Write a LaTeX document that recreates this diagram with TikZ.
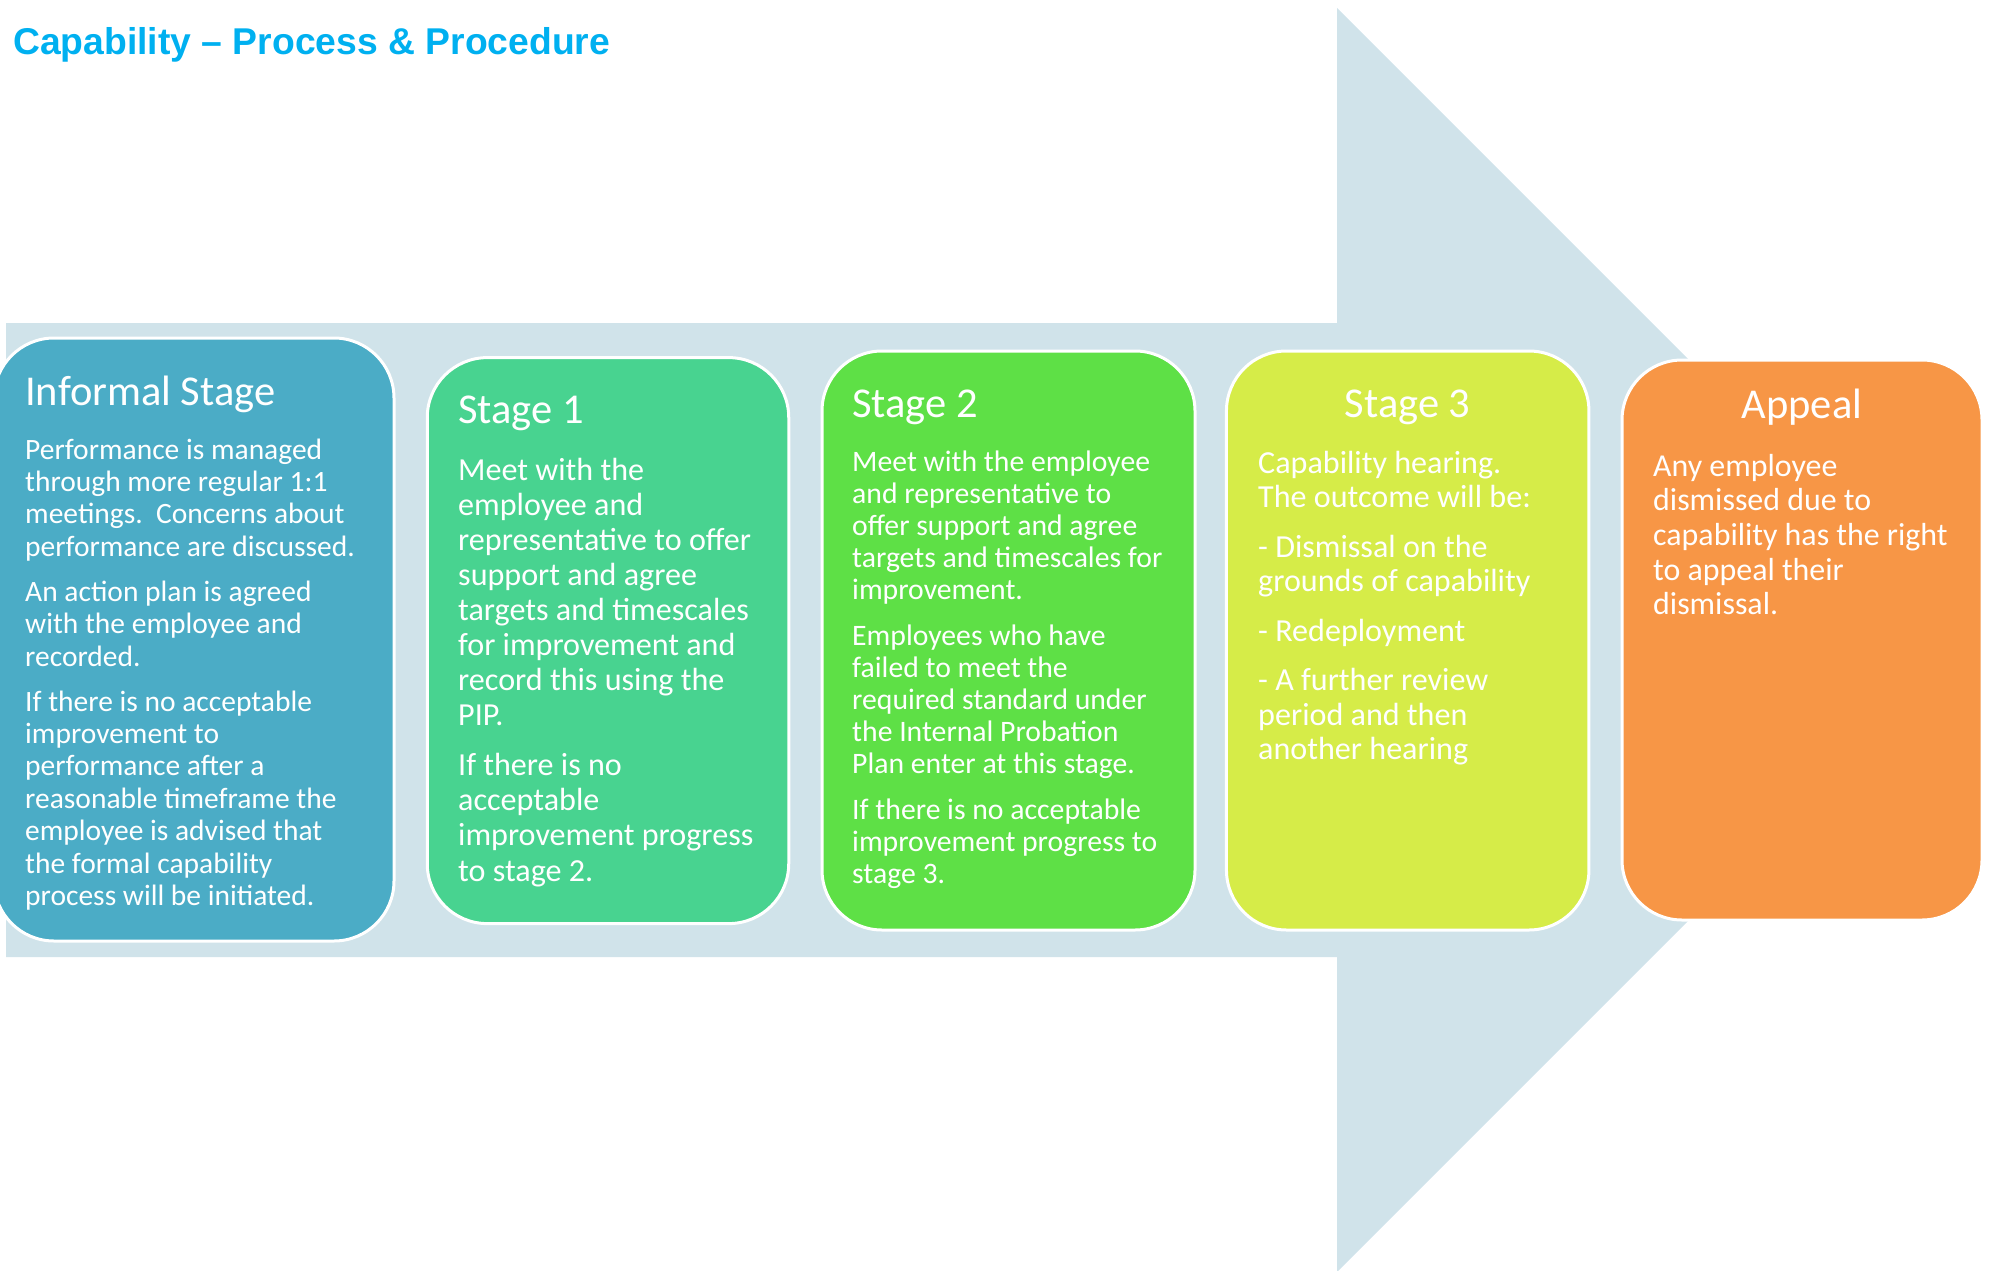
\documentclass[tikz,border=0pt]{standalone}
\usepackage{fontspec}
\setmainfont{Carlito}
\newfontfamily\titlefont{Liberation Sans}
\definecolor{arrowc}{HTML}{D0E3EA}
\definecolor{titlec}{HTML}{00B0F0}
\definecolor{cinf}{HTML}{4BACC6}
\definecolor{cone}{HTML}{48D390}
\definecolor{ctwo}{HTML}{5EE046}
\definecolor{cthree}{HTML}{D6EC48}
\definecolor{capp}{HTML}{F79646}
\tikzset{
  stagebox/.style={draw=white, line width=3pt, rounded corners=60pt, inner sep=0pt, outer sep=0pt},
  stagetitle/.style={inner sep=0pt, text=white, font=\fontsize{42.5}{50}\selectfont},
  bodytext/.style={anchor=base west, inner sep=0pt, text=white}
}
\begin{document}
\begin{tikzpicture}[x=1pt,y=-1pt]
\useasboundingbox (0,0) rectangle (1995,1271);
% background arrow
\fill[arrowc] (6,323) -- (1337,323) -- (1337,8) -- (1969,640) -- (1337,1272) -- (1337,957) -- (6,957) -- cycle;
% title
\node[anchor=base west, inner sep=0pt, text=titlec, font=\titlefont\bfseries\fontsize{37.3}{44}\selectfont] (title) at (13,55) {Capability – Process \& Procedure};
% boxes
\node[stagebox, fill=cinf, minimum width=400pt, minimum height=603pt] (informal) at (194,639.5) {};
\node[stagebox, fill=cone, minimum width=361.5pt, minimum height=566pt] (s1) at (608,640.6) {};
\node[stagebox, fill=ctwo, minimum width=373pt, minimum height=579pt] (s2) at (1008.5,640.5) {};
\node[stagebox, fill=cthree, minimum width=362.5pt, minimum height=579pt] (s3) at (1407.7,640.5) {};
\node[stagebox, fill=capp, minimum width=360pt, minimum height=560pt] (appeal) at (1802,640) {};
% titles
\node[stagetitle, anchor=base west] (tinf) at (25,405) {Informal Stage};
\node[stagetitle, anchor=base west] (t1) at (458,423) {Stage 1};
\node[stagetitle, anchor=base west] (t2) at (852,417) {Stage 2};
\node[stagetitle, anchor=base] (t3) at (1407.7,417) {Stage 3};
\node[stagetitle, anchor=base] (tapp) at (1802,418) {Appeal};
% bodies
\node[bodytext] (binf) at (25,459) {\parbox[t]{380pt}{\raggedright\fontsize{29.5}{32.4}\selectfont
Performance is managed\\
through more regular 1:1\\
meetings.\ \ Concerns about\\
performance are discussed.\\[12.6pt]
An action plan is agreed\\
with the employee and\\
recorded.\\[12.6pt]
If there is no acceptable\\
improvement to\\
performance after a\\
reasonable timeframe the\\
employee is advised that\\
the formal capability\\
process will be initiated.}};
\node[bodytext] (b1) at (458,480) {\parbox[t]{340pt}{\raggedright\fontsize{32.1}{35.1}\selectfont
Meet with the\\
employee and\\
representative to offer\\
support and agree\\
targets and timescales\\
for improvement and\\
record this using the\\
PIP.\\[14.9pt]
If there is no\\
acceptable\\
improvement progress\\
to stage 2.}};
\node[bodytext] (b2) at (852,471) {\parbox[t]{340pt}{\raggedright\fontsize{29.7}{32.1}\selectfont
Meet with the employee\\
and representative to\\
offer support and agree\\
targets and timescales for\\
improvement.\\[13.7pt]
Employees who have\\
failed to meet the\\
required standard under\\
the Internal Probation\\
Plan enter at this stage.\\[13.7pt]
If there is no acceptable\\
improvement progress to\\
stage 3.}};
\node[bodytext] (b3) at (1258,473) {\parbox[t]{330pt}{\raggedright\fontsize{32.1}{34.4}\selectfont
Capability hearing.\\
The outcome will be:\\[15.3pt]
- Dismissal on the\\
grounds of capability\\[15.3pt]
- Redeployment\\[15.3pt]
- A further review\\
period and then\\
another hearing}};
\node[bodytext] (bapp) at (1653,476) {\parbox[t]{330pt}{\raggedright\fontsize{31.9}{34.7}\selectfont
Any employee\\
dismissed due to\\
capability has the right\\
to appeal their\\
dismissal.}};
\end{tikzpicture}
\end{document}
